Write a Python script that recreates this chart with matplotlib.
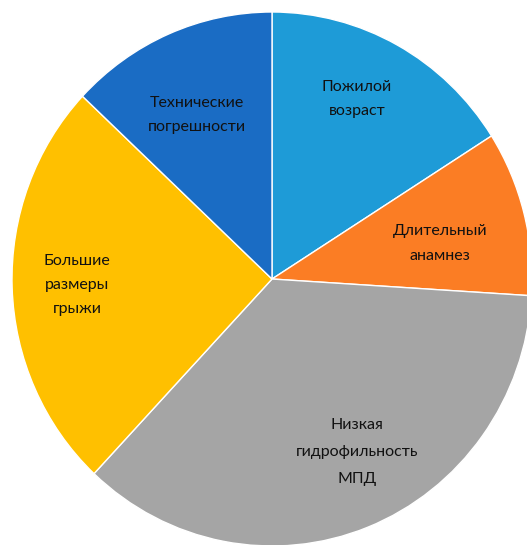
import matplotlib.pyplot as plt

labels = ["Пожилой\nвозраст", "Длительный\nанамнез", "Низкая\nгидрофильность\nМПД",
          "Большие\nразмеры\nгрыжи", "Технические\nпогрешности"]
values = [16, 10, 36, 25, 13]
colors = ["#1E9BD7", "#FB7D24", "#A5A5A5", "#FFC000", "#1A6CC4"]

# label centres in pixels (x, y from top) and line spacing per label
label_px = [(357, 99), (440, 243), (357, 452), (77, 285), (197, 115)]
spacing = [1.95, 2.0, 2.2, 1.95, 1.95]

W, H = 527, 545
fig = plt.figure(figsize=(W / 100, H / 100), dpi=100)
ax = fig.add_axes([0, 0, 1, 1])

cx, cy, rx, ry = 272, 279, 260, 267
ax.pie(values, colors=colors, startangle=90, counterclock=False,
       wedgeprops=dict(edgecolor="white", linewidth=1.0))
ax.set_aspect("auto")
ax.set_xlim(-cx / rx, (W - cx) / rx)
ax.set_ylim(-(H - cy) / ry, cy / ry)
ax.axis("off")

for lab, (px, py), ls in zip(labels, label_px, spacing):
    ax.text(px / W, 1 - py / H, lab, transform=ax.transAxes, ha="center", va="center",
            fontsize=11.5, family=["Lato", "DejaVu Sans"], color="#111111", linespacing=ls)

fig.savefig("out.png", dpi=100)
